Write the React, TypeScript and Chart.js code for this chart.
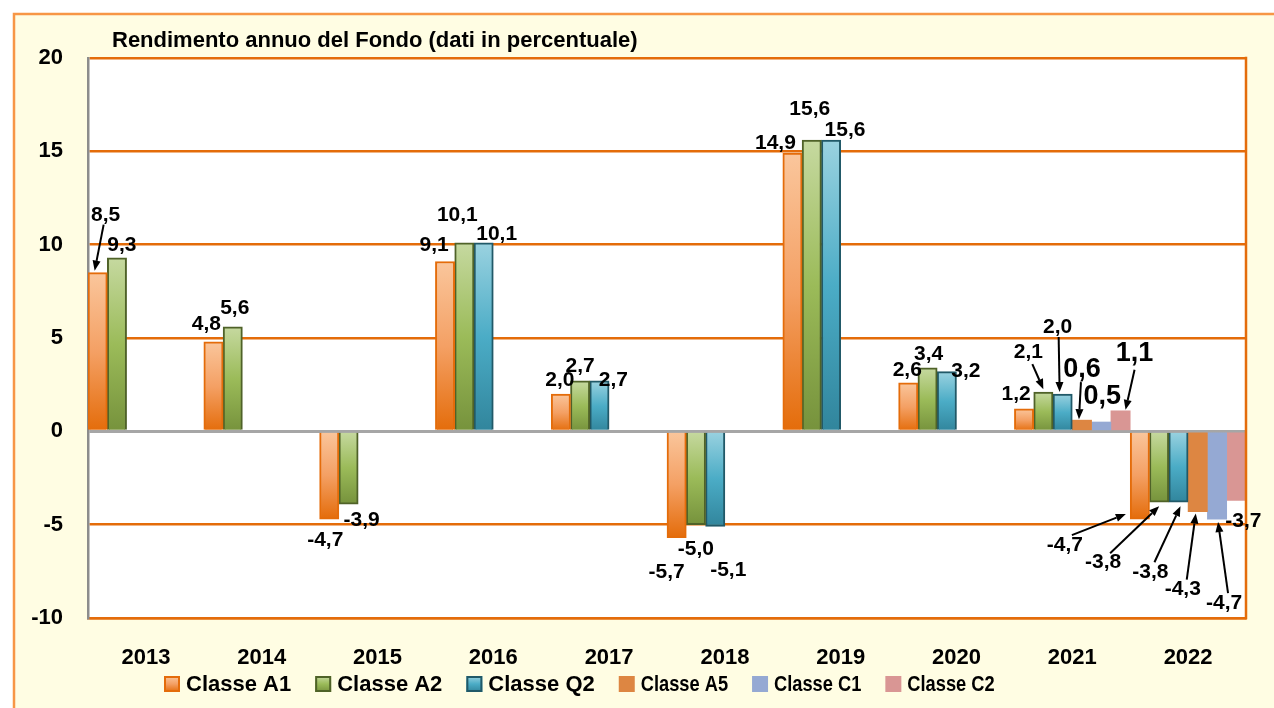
import React, { useEffect, useRef } from 'react';
import { Chart, registerables } from 'chart.js';

Chart.register(...registerables);

// ---------- data ----------
const years = ['2013', '2014', '2015', '2016', '2017', '2018', '2019', '2020', '2021', '2022'];
const seriesNames = ['Classe A1', 'Classe A2', 'Classe Q2', 'Classe A5', 'Classe C1', 'Classe C2'];
const classeA1 = [8.5, 4.8, -4.7, 9.1, 2.0, -5.7, 14.9, 2.6, 1.2, -4.7];
const classeA2 = [9.3, 5.6, -3.9, 10.1, 2.7, -5.0, 15.6, 3.4, 2.1, -3.8];
const classeQ2 = [null, null, null, 10.1, 2.7, -5.1, 15.6, 3.2, 2.0, -3.8];
const classeA5 = [null, null, null, null, null, null, null, null, 0.6, -4.3];
const classeC1 = [null, null, null, null, null, null, null, null, 0.5, -4.7];
const classeC2 = [null, null, null, null, null, null, null, null, 1.1, -3.7];
const yMin = -10;
const yMax = 20;
const yStep = 5;
const titleText = 'Rendimento annuo del Fondo (dati in percentuale)';

// ---------- label placement (offsets from bar end, px) ----------
type LabelSpec = { dx: number; dy: number; big?: boolean; arrow?: [number, number, number, number] } | null;
const labelsA1: LabelSpec[] = [
  { dx: 8, dy: -57, arrow: [-2, 9, -3, -2] },
  { dx: -7, dy: -18 },
  { dx: -4, dy: 21 },
  { dx: -11, dy: -16 },
  { dx: -1, dy: -14 },
  { dx: -10, dy: 34 },
  { dx: -17, dy: -10 },
  { dx: -1, dy: -13 },
  { dx: -8, dy: -15 },
  { dx: -75, dy: 26, arrow: [7, -10, -14, -5] },
];
const labelsA2: LabelSpec[] = [
  { dx: 5, dy: -13 },
  { dx: 2, dy: -19 },
  { dx: 13, dy: 16 },
  { dx: -7, dy: -28 },
  { dx: 0, dy: -15 },
  { dx: 0, dy: 25 },
  { dx: -2, dy: -31 },
  { dx: 1, dy: -14 },
  { dx: -15, dy: -40, arrow: [4, 12, 0, -3] },
  { dx: -56, dy: 60, arrow: [7, -9, 0, 4] },
];
const labelsQ2: LabelSpec[] = [
  null, null, null,
  { dx: 13, dy: -9 },
  { dx: 14, dy: -1 },
  { dx: 13, dy: 44 },
  { dx: 14, dy: -10 },
  { dx: 19, dy: 0 },
  { dx: -5, dy: -67, arrow: [1, 10, -3, -2] },
  { dx: -28, dy: 70, arrow: [4, -10, 2, 4] },
];
const labelsA5: LabelSpec[] = [null, null, null, null, null, null, null, null,
  { dx: 0, dy: -51, big: true, arrow: [-1, 13, -3, -1] },
  { dx: -15, dy: 78, arrow: [4, -10, -2, 2] },
];
const labelsC1: LabelSpec[] = [null, null, null, null, null, null, null, null,
  { dx: 1, dy: -25, big: true },
  { dx: 7, dy: 84, arrow: [4, -10, 1, 3] },
];
const labelsC2: LabelSpec[] = [null, null, null, null, null, null, null, null,
  { dx: 14, dy: -57, big: true, arrow: [0, 16, 5, -1] },
  { dx: 7, dy: 21 },
];

const seriesData = [classeA1, classeA2, classeQ2, classeA5, classeC1, classeC2];
const seriesLabels = [labelsA1, labelsA2, labelsQ2, labelsA5, labelsC1, labelsC2];

// ---------- styles ----------
type Style = { stops: string[]; border: string; bw: number };
const seriesStyles: Style[] = [
  { stops: ['#FAC69C', '#F4A064', '#E46C0A'], border: '#E46C0A', bw: 2 },
  { stops: ['#C6D9A0', '#9BBB59', '#76923C'], border: '#4F6228', bw: 2 },
  { stops: ['#9AD2E0', '#4BACC6', '#31859C'], border: '#215968', bw: 2 },
  { stops: ['#DD8642', '#DD8642'], border: '#DD8642', bw: 0 },
  { stops: ['#95A9D3', '#95A9D3'], border: '#95A9D3', bw: 0 },
  { stops: ['#D99694', '#D99694'], border: '#D99694', bw: 0 },
];

const FONT = '"Liberation Sans", Arial, sans-serif';
const ORANGE = '#E46C0A';

const fmt = (v: number) => v.toFixed(1).replace('.', ',');

function gradientFill(style: Style) {
  return (ctx: any) => {
    const chart = ctx.chart;
    const fallback = style.stops[Math.floor(style.stops.length / 2)];
    if (ctx.type !== 'data' || !chart.chartArea) return fallback;
    const v = ctx.parsed ? ctx.parsed.y : null;
    if (v == null || isNaN(v)) return fallback;
    const ys = chart.scales.y;
    const p = ys.getPixelForValue(v);
    const b = ys.getPixelForValue(0);
    const top = Math.min(p, b);
    const bot = Math.max(p, b);
    if (bot - top < 1) return fallback;
    const g = chart.ctx.createLinearGradient(0, top, 0, bot);
    style.stops.forEach((c, i) => g.addColorStop(i / (style.stops.length - 1), c));
    return g;
  };
}

function drawArrow(c: CanvasRenderingContext2D, x1: number, y1: number, x2: number, y2: number) {
  const ang = Math.atan2(y2 - y1, x2 - x1);
  const hl = 10;
  const hw = 4;
  const bx = x2 - hl * Math.cos(ang);
  const by = y2 - hl * Math.sin(ang);
  c.strokeStyle = '#000';
  c.lineWidth = 2;
  c.beginPath();
  c.moveTo(x1, y1);
  c.lineTo(bx, by);
  c.stroke();
  c.fillStyle = '#000';
  c.beginPath();
  c.moveTo(x2, y2);
  c.lineTo(bx + hw * Math.sin(ang), by - hw * Math.cos(ang));
  c.lineTo(bx - hw * Math.sin(ang), by + hw * Math.cos(ang));
  c.closePath();
  c.fill();
}

const framePlugin = {
  id: 'frame',
  beforeDraw(chart: any) {
    const c = chart.ctx as CanvasRenderingContext2D;
    const W = chart.width;
    const H = chart.height;
    const a = chart.chartArea;
    c.save();
    c.fillStyle = '#FFFFFF';
    c.fillRect(0, 0, W, H);
    c.fillStyle = '#FFFDE3';
    c.fillRect(13, 13, W - 13, H - 13);
    c.strokeStyle = '#F79646';
    c.lineWidth = 2.5;
    c.beginPath();
    c.moveTo(14, H);
    c.lineTo(14, 14);
    c.lineTo(W, 14);
    c.stroke();
    c.fillStyle = '#FFFFFF';
    c.fillRect(a.left, a.top, a.right - a.left, a.bottom - a.top);
    c.restore();
  },
  afterDatasetsDraw(chart: any) {
    const c = chart.ctx as CanvasRenderingContext2D;
    const a = chart.chartArea;
    c.save();
    c.strokeStyle = ORANGE;
    c.lineWidth = 2.5;
    c.beginPath();
    c.moveTo(a.right, a.top - 1.25);
    c.lineTo(a.right, a.bottom + 1.25);
    c.stroke();

    c.textAlign = 'center';
    c.textBaseline = 'middle';
    chart.data.datasets.forEach((ds: any, di: number) => {
      const meta = chart.getDatasetMeta(di);
      const specs = seriesLabels[di];
      meta.data.forEach((el: any, i: number) => {
        const v = ds.data[i];
        const s = specs[i];
        if (v == null || !s) return;
        const x = el.x;
        const y = el.y;
        const tx = x + s.dx;
        const ty = y + s.dy;
        c.font = `bold ${s.big ? 27 : 21}px ${FONT}`;
        c.fillStyle = '#000';
        c.fillText(fmt(v), tx, ty);
        if (s.arrow) {
          drawArrow(c, tx + s.arrow[0], ty + s.arrow[1], x + s.arrow[2], y + s.arrow[3]);
        }
      });
    });
    c.restore();
  },
  afterDraw(chart: any) {
    const c = chart.ctx as CanvasRenderingContext2D;
    c.save();
    // title
    c.font = `bold 22px ${FONT}`;
    c.fillStyle = '#000';
    c.textAlign = 'left';
    c.textBaseline = 'middle';
    c.fillText(titleText, 112, 41);

    // legend
    let x = 164;
    const yc = 684;
    const box = 16;
    seriesNames.forEach((name, i) => {
      const st = seriesStyles[i];
      const g = c.createLinearGradient(0, yc - box / 2, 0, yc + box / 2);
      st.stops.forEach((col, k) => g.addColorStop(k / (st.stops.length - 1), col));
      c.fillStyle = g;
      c.fillRect(x, yc - box / 2, box, box);
      if (st.bw > 0) {
        c.strokeStyle = st.border;
        c.lineWidth = 2;
        c.strokeRect(x + 1, yc - box / 2 + 1, box - 2, box - 2);
      }
      c.font = `bold 22px ${FONT}`;
      c.fillStyle = '#000';
      c.textAlign = 'left';
      c.textBaseline = 'middle';
      const sx = i >= 3 ? 0.83 : 1;
      const tw = c.measureText(name).width * sx;
      c.save();
      c.translate(x + 22, yc);
      c.scale(sx, 1);
      c.fillText(name, 0, 1);
      c.restore();
      x += 22 + tw + 24;
    });
    c.restore();
  },
};

export default function App() {
  const ref = useRef<HTMLCanvasElement | null>(null);

  useEffect(() => {
    if (!ref.current) return;
    Chart.defaults.font.family = FONT;
    const chart = new Chart(ref.current, {
      type: 'bar',
      data: {
        labels: years,
        datasets: seriesData.map((d, i) => ({
          label: seriesNames[i],
          data: d,
          backgroundColor: gradientFill(seriesStyles[i]),
          borderColor: seriesStyles[i].border,
          borderWidth: seriesStyles[i].bw,
          categoryPercentage: 1,
          barPercentage: 1,
        })),
      },
      options: {
        animation: false,
        responsive: false,
        devicePixelRatio: 1,
        layout: { padding: { top: 58, right: 28, left: 0, bottom: 0 } },
        plugins: {
          legend: { display: false },
          title: { display: false },
          tooltip: { enabled: false },
        },
        scales: {
          x: {
            grid: { display: false },
            border: { display: true, color: ORANGE, width: 2.5 },
            ticks: {
              color: '#000',
              font: { size: 22, weight: 'bold', family: FONT },
              padding: 19,
              maxRotation: 0,
            },
            afterFit: (s: any) => {
              s.height = 90;
            },
          },
          y: {
            min: yMin,
            max: yMax,
            ticks: {
              stepSize: yStep,
              color: '#000',
              font: { size: 22, weight: 'bold', family: FONT },
              padding: 25,
              callback: (v: any) => String(v),
            },
            grid: {
              drawTicks: false,
              color: (ctx: any) => (ctx.tick && ctx.tick.value === 0 ? '#A6A6A6' : ORANGE),
              lineWidth: (ctx: any) => (ctx.tick && ctx.tick.value === 0 ? 3 : 2.5),
            },
            border: { display: true, color: '#8C8C8C', width: 2.5 },
            afterFit: (s: any) => {
              s.width = 88;
            },
          },
        },
      } as any,
      plugins: [framePlugin],
    });
    return () => chart.destroy();
  }, []);

  return (
    <div style={{ position: 'fixed', left: 0, top: 0, width: 1274, height: 708, background: '#fff' }}>
      <canvas ref={ref} width={1274} height={708} style={{ display: 'block', width: 1274, height: 708 }} />
    </div>
  );
}
